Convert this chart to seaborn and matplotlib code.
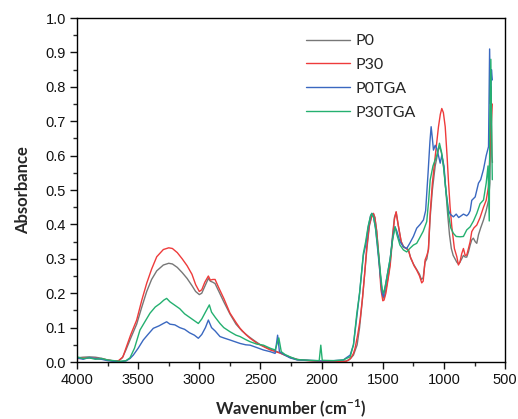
import numpy as np
import pandas as pd
import seaborn as sns
import matplotlib.pyplot as plt
from matplotlib.ticker import MultipleLocator

# wavenumber (cm-1) / absorbance pairs
p0_wn = [4000, 3950, 3900, 3850, 3800, 3750, 3700, 3660, 3630, 3600, 3560, 3512, 3470, 3430, 3390, 3348, 3294,
         3250, 3220, 3180, 3140, 3100, 3060, 3030, 3000, 2980, 2955, 2926, 2910, 2890, 2871, 2840, 2800, 2750,
         2700, 2650, 2600, 2550, 2500, 2450, 2400, 2350, 2300, 2250, 2200, 2150, 2100, 2000, 1900, 1800, 1770,
         1740, 1710, 1690, 1670, 1650, 1630, 1610, 1590, 1577, 1565, 1550, 1530, 1515, 1500, 1490, 1475, 1455,
         1440, 1420, 1405, 1391, 1375, 1350, 1330, 1305, 1290, 1270, 1250, 1225, 1200, 1185, 1170, 1155, 1140,
         1127, 1113, 1095, 1072, 1055, 1040, 1030, 1015, 1000, 985, 970, 955, 940, 925, 910, 895, 882, 870, 855,
         841, 827, 814, 800, 786, 773, 760, 745, 732, 718, 700, 677, 655, 636, 625, 615, 608, 604]
p0_abs = [0.012, 0.014, 0.015, 0.014, 0.011, 0.006, 0.003, 0.003, 0.012, 0.035, 0.07, 0.11, 0.16, 0.205, 0.24,
          0.265, 0.282, 0.287, 0.285, 0.275, 0.26, 0.243, 0.222, 0.205, 0.196, 0.2, 0.22, 0.243, 0.235, 0.232,
          0.228, 0.205, 0.175, 0.14, 0.11, 0.09, 0.075, 0.062, 0.05, 0.042, 0.035, 0.028, 0.02, 0.013, 0.008,
          0.005, 0.004, 0.002, 0.001, 0.003, 0.008, 0.02, 0.05, 0.1, 0.17, 0.25, 0.33, 0.395, 0.425, 0.432, 0.42,
          0.38, 0.3, 0.23, 0.19, 0.185, 0.21, 0.25, 0.29, 0.37, 0.42, 0.435, 0.4, 0.35, 0.335, 0.33, 0.325, 0.3,
          0.285, 0.27, 0.255, 0.24, 0.245, 0.29, 0.3, 0.33, 0.42, 0.5, 0.57, 0.6, 0.625, 0.62, 0.6, 0.56, 0.5,
          0.43, 0.37, 0.33, 0.31, 0.3, 0.29, 0.285, 0.29, 0.3, 0.31, 0.305, 0.305, 0.32, 0.34, 0.355, 0.36, 0.35,
          0.345, 0.37, 0.39, 0.413, 0.44, 0.47, 0.52, 0.8, 0.6, 0.58]

p30_wn = [4000, 3900, 3800, 3700, 3660, 3624, 3600, 3560, 3512, 3470, 3430, 3390, 3348, 3294, 3250, 3220, 3180,
          3140, 3100, 3060, 3030, 3000, 2980, 2955, 2926, 2910, 2890, 2871, 2840, 2800, 2749, 2700, 2667, 2620,
          2585, 2530, 2476, 2420, 2340, 2300, 2250, 2200, 2100, 2000, 1900, 1800, 1781, 1760, 1740, 1727, 1705,
          1686, 1665, 1650, 1631, 1610, 1590, 1577, 1565, 1550, 1530, 1515, 1500, 1490, 1475, 1455, 1440, 1420,
          1405, 1391, 1375, 1350, 1332, 1310, 1291, 1275, 1264, 1245, 1223, 1200, 1182, 1170, 1154, 1140, 1127,
          1113, 1095, 1072, 1045, 1030, 1018, 1005, 990, 975, 964, 950, 936, 915, 895, 882, 870, 855, 841, 827,
          814, 800, 786, 773, 755, 732, 705, 677, 655, 636, 625, 615, 605]
p30_abs = [0.01, 0.012, 0.009, 0.003, 0.004, 0.015, 0.04, 0.08, 0.122, 0.18, 0.229, 0.27, 0.306, 0.327, 0.332,
           0.33, 0.318, 0.3, 0.28, 0.255, 0.225, 0.205, 0.21, 0.232, 0.25, 0.238, 0.24, 0.24, 0.215, 0.185, 0.142,
           0.115, 0.098, 0.08, 0.069, 0.055, 0.045, 0.035, 0.026, 0.02, 0.012, 0.007, 0.004, 0.002, 0.002, 0.002,
           0.005, 0.012, 0.025, 0.04, 0.08, 0.122, 0.19, 0.25, 0.335, 0.4, 0.425, 0.432, 0.42, 0.38, 0.29, 0.21,
           0.178, 0.18, 0.2, 0.245, 0.28, 0.36, 0.415, 0.437, 0.4, 0.35, 0.335, 0.33, 0.326, 0.305, 0.297, 0.28,
           0.267, 0.25, 0.23, 0.235, 0.297, 0.31, 0.326, 0.432, 0.52, 0.597, 0.684, 0.72, 0.737, 0.725, 0.684, 0.6,
           0.529, 0.45, 0.393, 0.33, 0.306, 0.282, 0.29, 0.315, 0.33, 0.31, 0.311, 0.33, 0.35, 0.379, 0.39, 0.398,
           0.42, 0.45, 0.47, 0.51, 0.6, 0.68, 0.75]

p0tga_wn = [4000, 3950, 3900, 3850, 3800, 3750, 3700, 3650, 3600, 3567, 3540, 3500, 3458, 3420, 3376, 3330, 3294,
            3267, 3240, 3200, 3160, 3120, 3080, 3040, 3008, 2980, 2950, 2926, 2900, 2870, 2831, 2800, 2749, 2700,
            2667, 2620, 2585, 2530, 2476, 2420, 2380, 2360, 2345, 2300, 2258, 2200, 2100, 2000, 1900, 1822, 1800,
            1767, 1740, 1713, 1690, 1659, 1640, 1620, 1600, 1590, 1575, 1560, 1540, 1520, 1505, 1495, 1480, 1460,
            1440, 1420, 1400, 1385, 1360, 1332, 1305, 1280, 1250, 1223, 1195, 1168, 1150, 1130, 1115, 1105, 1095,
            1086, 1072, 1059, 1045, 1031, 1018, 1000, 985, 970, 964, 950, 923, 900, 880, 860, 841, 814, 800, 786,
            773, 745, 718, 700, 677, 655, 636, 627, 620, 612, 605]
p0tga_abs = [0.012, 0.008, 0.013, 0.01, 0.008, 0.004, 0.002, 0.001, 0.003, 0.01, 0.02, 0.04, 0.064, 0.08, 0.098,
             0.105, 0.112, 0.117, 0.11, 0.108, 0.1, 0.095, 0.085, 0.078, 0.069, 0.08, 0.1, 0.122, 0.1, 0.09, 0.074,
             0.07, 0.064, 0.058, 0.054, 0.05, 0.049, 0.042, 0.035, 0.03, 0.025, 0.078, 0.03, 0.02, 0.012, 0.006,
             0.005, 0.003, 0.004, 0.006, 0.012, 0.02, 0.05, 0.13, 0.2, 0.31, 0.34, 0.39, 0.425, 0.432, 0.42, 0.39,
             0.32, 0.25, 0.2, 0.19, 0.22, 0.26, 0.3, 0.36, 0.393, 0.38, 0.35, 0.335, 0.33, 0.345, 0.365, 0.389, 0.4,
             0.413, 0.44, 0.55, 0.64, 0.684, 0.65, 0.616, 0.63, 0.62, 0.6, 0.578, 0.6, 0.57, 0.5, 0.46, 0.442, 0.43,
             0.422, 0.43, 0.42, 0.425, 0.43, 0.425, 0.43, 0.44, 0.47, 0.48, 0.52, 0.53, 0.56, 0.6, 0.626, 0.91,
             0.75, 0.85, 0.82]

p30tga_wn = [4000, 3950, 3900, 3850, 3800, 3750, 3700, 3650, 3600, 3567, 3530, 3485, 3440, 3403, 3360, 3321, 3290,
             3267, 3240, 3200, 3160, 3120, 3080, 3040, 3008, 2980, 2950, 2918, 2900, 2870, 2831, 2800, 2749, 2700,
             2667, 2620, 2585, 2530, 2476, 2420, 2380, 2350, 2330, 2300, 2258, 2200, 2100, 2020, 2007, 1995, 1900,
             1822, 1800, 1767, 1740, 1713, 1690, 1659, 1640, 1620, 1600, 1590, 1575, 1560, 1540, 1520, 1505, 1495,
             1480, 1460, 1440, 1420, 1400, 1385, 1360, 1332, 1305, 1280, 1250, 1223, 1200, 1170, 1141, 1125, 1113,
             1090, 1059, 1037, 1020, 1004, 985, 964, 945, 923, 900, 868, 841, 814, 786, 759, 732, 705, 677, 655,
             640, 630, 625, 617, 610, 605]
p30tga_abs = [0.015, 0.01, 0.012, 0.008, 0.01, 0.006, 0.004, 0.002, 0.004, 0.012, 0.04, 0.093, 0.12, 0.142, 0.16,
              0.17, 0.18, 0.185, 0.175, 0.165, 0.155, 0.14, 0.13, 0.12, 0.112, 0.125, 0.145, 0.166, 0.145, 0.13,
              0.112, 0.1, 0.088, 0.078, 0.074, 0.065, 0.059, 0.052, 0.049, 0.04, 0.035, 0.07, 0.03, 0.022, 0.015,
              0.007, 0.005, 0.004, 0.049, 0.005, 0.004, 0.006, 0.01, 0.015, 0.05, 0.14, 0.2, 0.316, 0.35, 0.395,
              0.425, 0.432, 0.42, 0.39, 0.33, 0.26, 0.21, 0.2, 0.22, 0.26, 0.3, 0.355, 0.393, 0.37, 0.34, 0.326,
              0.32, 0.33, 0.34, 0.345, 0.36, 0.38, 0.408, 0.47, 0.529, 0.57, 0.6, 0.636, 0.61, 0.568, 0.5, 0.432,
              0.39, 0.374, 0.365, 0.364, 0.365, 0.384, 0.393, 0.41, 0.432, 0.46, 0.471, 0.52, 0.57, 0.41, 0.72,
              0.88, 0.65, 0.53]

labels = ['P0', 'P30', 'P0TGA', 'P30TGA']
colors = ['#777777', '#ee3b3b', '#3a68c0', '#24b070']

frames = []
for lab, wn, ab in zip(labels, [p0_wn, p30_wn, p0tga_wn, p30tga_wn], [p0_abs, p30_abs, p0tga_abs, p30tga_abs]):
    frames.append(pd.DataFrame({'wn': wn, 'abs': ab, 'sample': lab}))
df = pd.concat(frames, ignore_index=True)

# styling
sns.set_theme(style='ticks')
plt.rcParams['font.family'] = ['Liberation Sans', 'DejaVu Sans']
plt.rcParams['mathtext.fontset'] = 'custom'
plt.rcParams['mathtext.rm'] = 'Lato'
plt.rcParams['mathtext.bf'] = 'Lato:bold'

fig = plt.figure(figsize=(5.18, 4.19), dpi=100)
ax = fig.add_axes([0.1486, 0.136, 0.8266, 0.821])

sns.lineplot(data=df, x='wn', y='abs', hue='sample', palette=colors, hue_order=labels,
             estimator=None, sort=True, linewidth=1.0, ax=ax)

ax.set_xlim(4000, 500)
ax.set_ylim(0, 1.0)
ax.xaxis.set_major_locator(MultipleLocator(500))
ax.xaxis.set_minor_locator(MultipleLocator(250))
ax.yaxis.set_major_locator(MultipleLocator(0.1))
ax.yaxis.set_minor_locator(MultipleLocator(0.05))
ax.yaxis.set_major_formatter(plt.FormatStrFormatter('%.1f'))
ax.tick_params(which='major', direction='out', length=5, width=1, labelsize=10.5, colors='#111111', pad=3)
ax.tick_params(which='minor', direction='out', length=3, width=1)
for s in ax.spines.values():
    s.set_linewidth(1.0)
    s.set_color('black')

ax.set_xlabel(r'Wavenumber (cm$^{\mathbf{-1}}$)', family='Lato', fontweight='bold', fontsize=12, labelpad=7)
ax.set_ylabel('Absorbance', family='Lato', fontweight='bold', fontsize=12, labelpad=10)

leg = ax.legend(loc='upper left', bbox_to_anchor=(0.502, 0.995), frameon=False, handlelength=2.75,
                handletextpad=0.35, labelspacing=0.6, prop={'family': 'Lato', 'size': 11.5})

fig.savefig('out.png', dpi=100)
